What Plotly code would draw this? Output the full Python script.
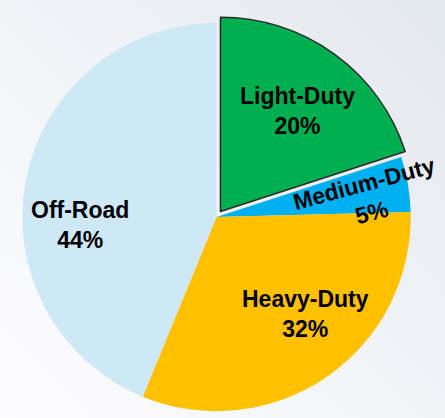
import base64
import plotly.graph_objects as go

# Vehicle category shares (clockwise from 12 o'clock)
categories = ["Light-Duty", "Medium-Duty", "Heavy-Duty", "Off-Road"]
shares = [20.0, 4.6, 31.6, 43.8]
colors = ["#00B050", "#00B0F0", "#FFC000", "#CFE8F6"]

W, H = 445, 418

# soft grey-blue backdrop gradient as an inline svg
svg = (
    '<svg xmlns="http://www.w3.org/2000/svg" width="445" height="418">'
    '<defs><linearGradient id="g" x1="1" y1="0" x2="0" y2="1">'
    '<stop offset="0" stop-color="#E3E7EE"/>'
    '<stop offset="0.55" stop-color="#F3F5F9"/>'
    '<stop offset="1" stop-color="#FCFCFE"/>'
    '</linearGradient></defs>'
    '<rect width="445" height="418" fill="url(#g)"/></svg>'
)
bg_src = "data:image/svg+xml;base64," + base64.b64encode(svg.encode()).decode()

fig = go.Figure()
fig.add_trace(go.Pie(
    labels=categories,
    values=shares,
    sort=False,
    direction="clockwise",
    rotation=0,
    pull=[0.035, 0, 0, 0],
    marker=dict(colors=colors, line=dict(color="#2B2B2B", width=[1.6, 0, 0, 0])),
    textinfo="none",
    hoverinfo="label+percent",
    domain=dict(x=[0.0, 0.973], y=[0.0, 0.9617]),
    showlegend=False,
))

# label positions (px) and rotation for each slice
label_pos = [(297, 111, 0), (368, 198, -15), (305, 314, 0), (80, 225, 0)]
total = sum(shares)
annotations = []
for name, v, (px, py, ang) in zip(categories, shares, label_pos):
    annotations.append(dict(
        x=px / W, y=1 - py / H, xref="paper", yref="paper",
        text=f"<b>{name}</b><br><b>{round(v / total * 100)}%</b>",
        showarrow=False, xanchor="center", yanchor="middle",
        textangle=ang,
        font=dict(family="Liberation Sans, Arial, sans-serif", size=23, color="#000000"),
        align="center",
    ))

fig.update_layout(
    width=W, height=H,
    margin=dict(l=0, r=0, t=0, b=0),
    paper_bgcolor="#F3F5F9",
    plot_bgcolor="rgba(0,0,0,0)",
    annotations=annotations,
    images=[dict(source=bg_src, xref="paper", yref="paper", x=0, y=1,
                 sizex=1, sizey=1, sizing="stretch", xanchor="left",
                 yanchor="top", layer="below")],
)

# drop the default body margin so the figure sits flush in the window
fig.write_html("out.html", config={"displayModeBar": False},
               post_script="document.body.style.margin='0';")
